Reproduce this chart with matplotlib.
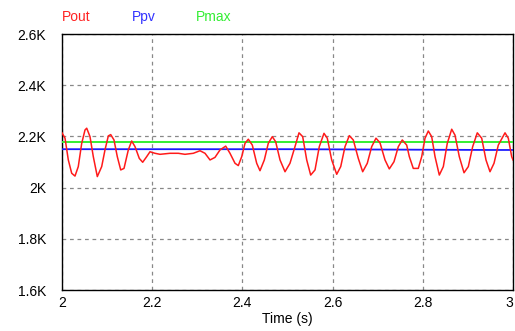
import matplotlib
matplotlib.use("Agg")
import matplotlib.pyplot as plt
from matplotlib.ticker import FuncFormatter

plt.rcParams['font.family'] = ['Liberation Sans', 'DejaVu Sans']

# Pout (W)
t_out = [2.0000, 2.0067, 2.0140, 2.0215, 2.0288, 2.0361, 2.0437, 2.0510, 2.0548, 2.0621,
         2.0694, 2.0783, 2.0880, 2.0953, 2.1027, 2.1080, 2.1153, 2.1226, 2.1302, 2.1375,
         2.1470, 2.1545, 2.1619, 2.1714, 2.1789, 2.1878, 2.1951, 2.2062, 2.2173, 2.2395,
         2.2579, 2.2727, 2.2911, 2.3060, 2.3171, 2.3282, 2.3392, 2.3503, 2.3630, 2.3725,
         2.3836, 2.3909, 2.3985, 2.4058, 2.4131, 2.4220, 2.4317, 2.4390, 2.4486, 2.4574,
         2.4663, 2.4738, 2.4834, 2.4945, 2.5055, 2.5166, 2.5255, 2.5337, 2.5426, 2.5514,
         2.5610, 2.5705, 2.5809, 2.5882, 2.5980, 2.6091, 2.6180, 2.6275, 2.6370, 2.6459,
         2.6570, 2.6667, 2.6769, 2.6867, 2.6962, 2.7051, 2.7162, 2.7257, 2.7361, 2.7457,
         2.7545, 2.7643, 2.7701, 2.7789, 2.7900, 2.7976, 2.8049, 2.8122, 2.8197, 2.8271,
         2.8366, 2.8455, 2.8543, 2.8641, 2.8714, 2.8809, 2.8914, 2.9009, 2.9106, 2.9208,
         2.9306, 2.9401, 2.9490, 2.9579, 2.9674, 2.9823, 2.9896, 2.9971, 3.0000]
p_out = [2214, 2193, 2108, 2056, 2045, 2082, 2173, 2225, 2232, 2199,
         2121, 2043, 2082, 2147, 2202, 2207, 2186, 2121, 2069, 2075,
         2147, 2182, 2160, 2114, 2099, 2121, 2140, 2134, 2130, 2134,
         2134, 2130, 2134, 2144, 2134, 2108, 2118, 2147, 2162, 2134,
         2095, 2086, 2121, 2173, 2189, 2166, 2095, 2066, 2108, 2173,
         2199, 2179, 2108, 2062, 2095, 2160, 2214, 2199, 2108, 2049,
         2069, 2160, 2212, 2193, 2108, 2052, 2082, 2160, 2203, 2186,
         2114, 2062, 2095, 2160, 2193, 2175, 2108, 2073, 2101, 2160,
         2186, 2166, 2121, 2075, 2075, 2121, 2193, 2221, 2199, 2121,
         2049, 2082, 2173, 2228, 2205, 2121, 2058, 2082, 2160, 2214,
         2193, 2108, 2062, 2095, 2166, 2214, 2193, 2121, 2108]

t_pv = [2.0, 2.5, 2.95, 3.0]
p_pv = [2150, 2150, 2147, 2147]

t_max = [2.0, 3.0]
p_max = [2178, 2178]

x_ticks = [2.0, 2.2, 2.4, 2.6, 2.8, 3.0]
x_ticklabels = ['2', '2.2', '2.4', '2.6', '2.8', '3']
y_ticks = [1600, 1800, 2000, 2200, 2400, 2600]

fig = plt.figure(figsize=(5.15, 3.31), dpi=100)
ax = fig.add_axes([62/515, 1-290/331, (513-62)/515, (290-34)/331])

ax.plot(t_max, p_max, color='#33ee33', lw=1.4, zorder=3)
ax.plot(t_pv, p_pv, color='#1a1aff', lw=1.3, zorder=4)
ax.plot(t_out, p_out, color='#ff1a1a', lw=1.1, zorder=5)

ax.set_xlim(2.0, 3.0)
ax.set_ylim(1600, 2600)
ax.set_xticks(x_ticks)
ax.set_xticklabels(x_ticklabels)
ax.set_yticks(y_ticks)
ax.yaxis.set_major_formatter(FuncFormatter(lambda v, p: f"{v/1000:g}K"))
ax.tick_params(length=0, labelsize=10, colors='black')
ax.tick_params(axis='y', pad=11.5)
ax.tick_params(axis='x', pad=4)
ax.grid(True, color='#888888', linestyle=(0, (3, 3)), lw=0.9)
for s in ax.spines.values():
    s.set_color('black')
    s.set_linewidth(1.0)
ax.set_xlabel('Time (s)', fontsize=10, labelpad=2)

ax.xaxis.get_major_ticks()[-1].label1.set_horizontalalignment('right')

for label, col, x in [('Pout', '#ff2222', 62), ('Ppv', '#3333ff', 132), ('Pmax', '#33ee33', 196)]:
    fig.text(x/515, 1-17/331, label, color=col, fontsize=10, ha='left', va='center')

fig.savefig('out.png', dpi=100)
